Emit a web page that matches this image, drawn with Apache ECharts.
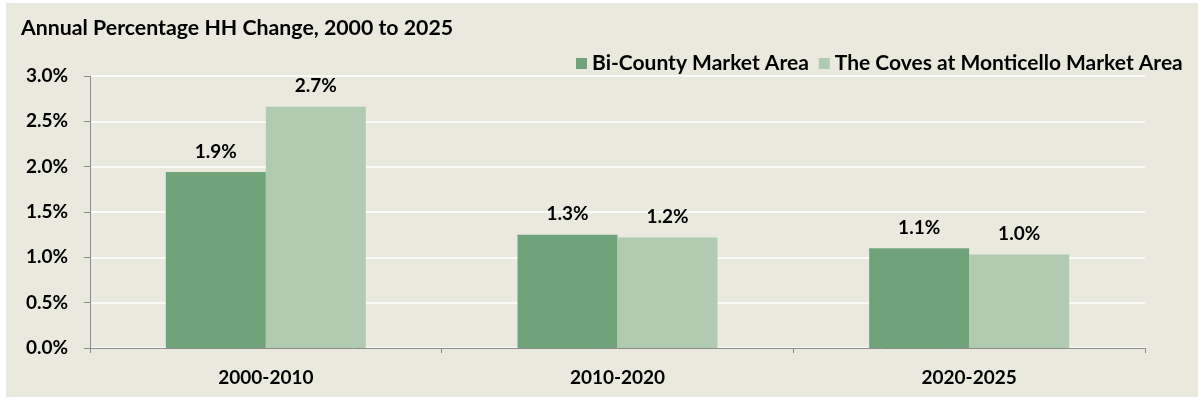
<!DOCTYPE html>
<html><head><meta charset="utf-8">
<script src="https://cdn.jsdelivr.net/npm/echarts@6/dist/echarts.min.js"></script>
<style>html,body{margin:0;padding:0;background:#fff}#c{width:1198px;height:400px}</style>
</head><body><div id="c"></div>
<script>
const categories = ['2000-2010', '2010-2020', '2020-2025'];
const biCounty = [1.94, 1.25, 1.10];
const coves = [2.66, 1.22, 1.03];
const seriesNames = ['Bi-County Market Area', 'The Coves at Monticello Market Area'];
const FONT = 'Lato';
const chart = echarts.init(document.getElementById('c'));
const lbl = {show:true, position:'top', distance:11, fontFamily:FONT, fontWeight:'bold', fontSize:19, color:'#000',
  formatter: p => p.value.toFixed(1) + '%'};
chart.setOption({
  animation:false,
  graphic:[{type:'rect', z:-10, shape:{x:6,y:3,width:1192,height:394}, style:{fill:'#EAE9DE'}}],
  title:{text:'Annual Percentage HH Change, 2000 to 2025', left:16, top:13,
    textStyle:{fontFamily:FONT, fontWeight:'bold', fontSize:21.3, color:'#000'}},
  legend:{left:571, top:48, itemWidth:11, itemHeight:11, itemGap:10, icon:'rect',
    textStyle:{fontFamily:FONT, fontWeight:'bold', fontSize:21, color:'#000'}, data:seriesNames},
  grid:{left:90, right:53, top:76, bottom:52},
  xAxis:{type:'category', data:categories,
    axisLine:{lineStyle:{color:'#8c8c8c', width:1}},
    axisTick:{show:true, length:5, lineStyle:{color:'#8c8c8c'}},
    axisLabel:{fontFamily:FONT, fontWeight:'bold', fontSize:19, color:'#000', margin:20}},
  yAxis:{type:'value', min:0, max:3, interval:0.5,
    axisLine:{show:true, lineStyle:{color:'#8c8c8c'}},
    axisTick:{show:true, length:6, lineStyle:{color:'#8c8c8c'}},
    splitLine:{lineStyle:{color:'#ffffff', width:1.5}},
    axisLabel:{fontFamily:FONT, fontWeight:'bold', fontSize:19, color:'#000', margin:22,
      formatter: v => v.toFixed(1) + '%'}},
  series:[
    {name:seriesNames[0], type:'bar', data:biCounty, barWidth:100, barGap:'0%', itemStyle:{color:'#71A37A'}, label:lbl},
    {name:seriesNames[1], type:'bar', data:coves, barWidth:100, barGap:'0%', itemStyle:{color:'#AFCCB1'}, label:lbl}
  ]
});
</script></body></html>
